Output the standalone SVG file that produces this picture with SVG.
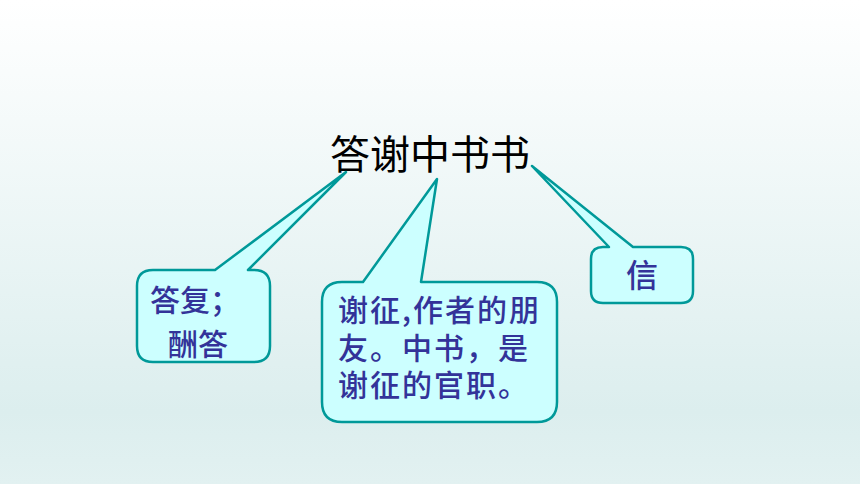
<svg xmlns="http://www.w3.org/2000/svg" width="860" height="484" viewBox="0 0 860 484">
  <defs>
    <linearGradient id="bg" x1="0" y1="0" x2="0" y2="1">
      <stop offset="0" stop-color="#ffffff"/>
      <stop offset="0.85" stop-color="#dceeee"/>
      <stop offset="1" stop-color="#e2f1f1"/>
    </linearGradient>
  </defs>
  <style>
    .callout { fill: #ccffff; stroke: #009999; stroke-width: 2.5; stroke-linejoin: round; }
    .label { font-family: "Noto Sans CJK SC", "Liberation Sans", sans-serif; fill: #333399; font-weight: 500; }
    .title { font-family: "Noto Sans CJK SC", "Liberation Sans", sans-serif; fill: #000000; font-size: 40px; font-weight: normal; }
  </style>
  <rect x="0" y="0" width="860" height="484" fill="url(#bg)"/>
  <g id="title">
    <text class="title" x="330" y="169">答谢中书书</text>
  </g>
  <g id="connectors"></g>
  <g id="callout-left">
    <path class="callout" d="M153,270 L215,270 L346,172 L248,270 L254,270 Q270,270 270,286 L270,346 Q270,362 254,362 L153,362 Q137,362 137,346 L137,286 Q137,270 153,270 Z"/>
    <text class="label" font-size="30" x="150" y="311">答复；<tspan x="168" y="355">酬答</tspan></text>
  </g>
  <g id="callout-middle">
    <path class="callout" d="M342,282 L363,282 L437,179 L421,282 L537,282 Q557,282 557,302 L557,402 Q557,422 537,422 L342,422 Q322,422 322,402 L322,302 Q322,282 342,282 Z"/>
    <text class="label" font-size="30" letter-spacing="2" x="338" y="321">谢征,作者的朋<tspan x="338" y="359">友。中书，是</tspan><tspan x="338" y="396">谢征的官职。</tspan></text>
  </g>
  <g id="callout-right">
    <path class="callout" d="M603,247 L609,247 L532,166 L633,247 L681,247 Q693,247 693,259 L693,291 Q693,303 681,303 L603,303 Q591,303 591,291 L591,259 Q591,247 603,247 Z"/>
    <text class="label" font-size="32" x="626" y="287">信</text>
  </g>
</svg>
